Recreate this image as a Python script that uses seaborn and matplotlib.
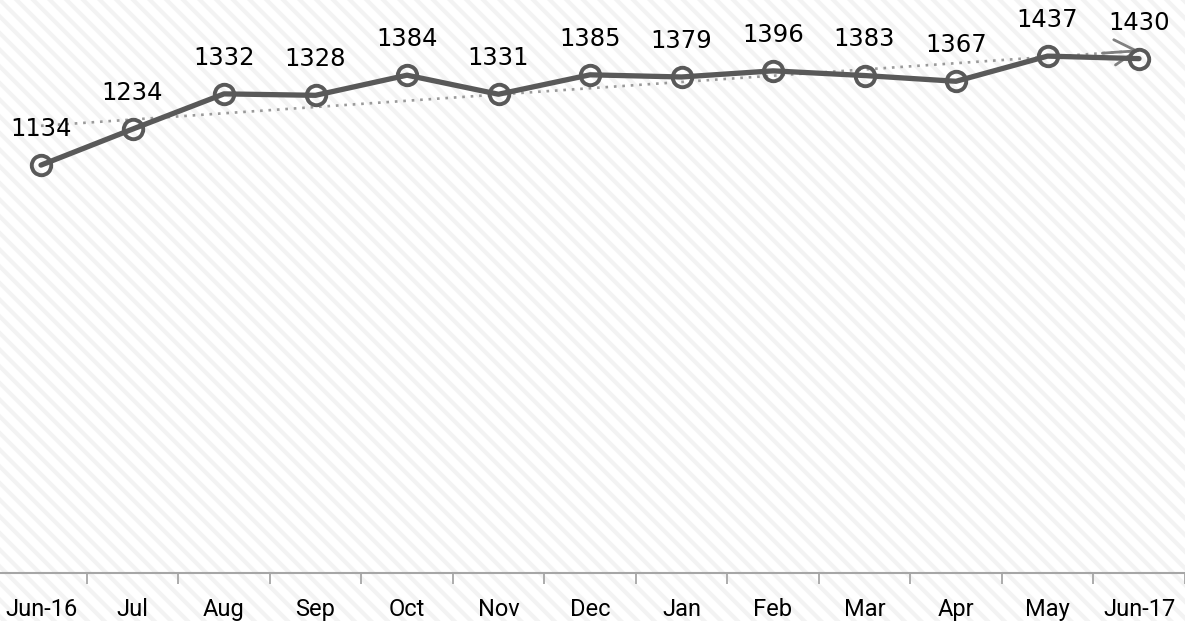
import numpy as np
import matplotlib
matplotlib.use("Agg")
import matplotlib.pyplot as plt
import seaborn as sns
from matplotlib.patches import Rectangle

months = ["Jun-16", "Jul", "Aug", "Sep", "Oct", "Nov", "Dec",
          "Jan", "Feb", "Mar", "Apr", "May", "Jun-17"]
values = [1134, 1234, 1332, 1328, 1384, 1331, 1385,
          1379, 1396, 1383, 1367, 1437, 1430]

sns.set_theme(style="white")
plt.rcParams["font.family"] = ["DejaVu Sans"]
plt.rcParams["hatch.linewidth"] = 3.0

x = np.arange(len(months))
line_col = "#595959"

fig = plt.figure(figsize=(11.85, 6.21), dpi=100)
fig.patch.set_facecolor("white")
# faint diagonal stripes in the background
fig.patches.append(Rectangle((0, 0), 1, 1, transform=fig.transFigure,
                             facecolor="white", edgecolor="#f3f3f3",
                             hatch="\\\\", lw=0, zorder=-10))

ax = fig.add_axes([0, 48 / 621, 1, 573 / 621])
ax.patch.set_alpha(0)

# trend line (linear fit)
sns.regplot(x=x, y=values, ax=ax, scatter=False, ci=None,
            line_kws=dict(color="#9a9a9a", lw=1.9, ls=(0, (1, 2.2)), zorder=2))
slope, icpt = np.polyfit(x, values, 1)
ax.annotate("", xy=(12, slope * 12 + icpt), xytext=(11.6, slope * 11.6 + icpt),
            arrowprops=dict(arrowstyle="->,head_length=0.6,head_width=0.35",
                            color="#808080", lw=2.0,
                            mutation_scale=26, shrinkA=0, shrinkB=0), zorder=2)

sns.lineplot(x=x, y=values, ax=ax, color=line_col, lw=3.8, marker="o",
             markersize=14, markerfacecolor="none", markeredgecolor=line_col,
             markeredgewidth=2.8, zorder=3)

for xi, v in zip(x, values):
    ax.annotate(str(v), (xi, v), xytext=(0, 26), textcoords="offset points",
                ha="center", va="center", fontsize=17.5, color="black", zorder=4)

ax.set_yticks([])
ax.set_xticks(x)
ax.set_xticklabels(months, fontsize=17, family=["Roboto", "DejaVu Sans"])
ax.set_xticks(np.arange(-0.5, 13, 1), minor=True)
ax.tick_params(axis="x", which="major", length=0, pad=18, colors="black")
ax.tick_params(axis="x", which="minor", length=8, width=1.3, color="#a6a6a6",
               direction="out", bottom=True)
ax.set_xlim(-41 / 91.5, 12 + 46 / 91.5)
ax.set_ylim(0, 1593)
for s in ["top", "right", "left"]:
    ax.spines[s].set_visible(False)
ax.spines["bottom"].set_color("#a6a6a6")
ax.spines["bottom"].set_linewidth(1.5)
ax.set_xlabel("")
ax.set_ylabel("")

fig.savefig("out.png", dpi=100)
